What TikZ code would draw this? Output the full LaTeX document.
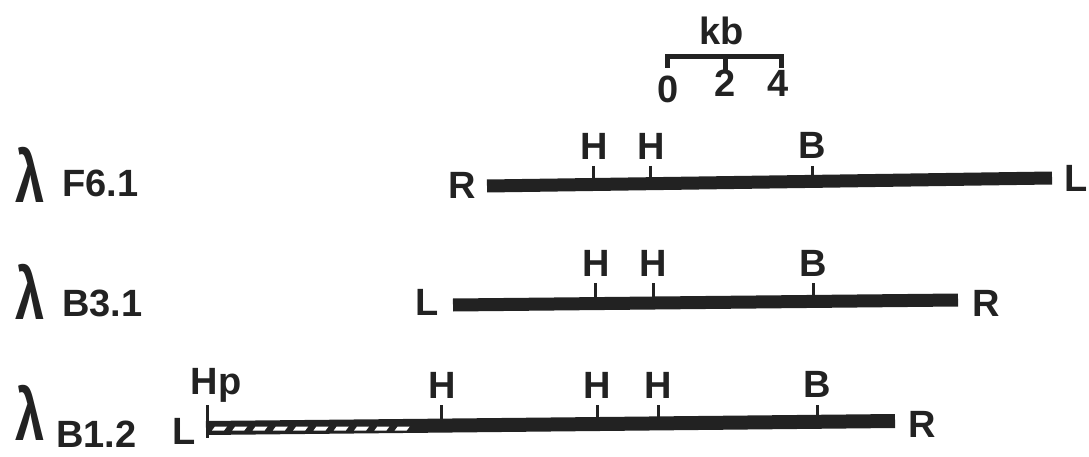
\documentclass[tikz,border=0pt]{standalone}
\usepackage{fontspec}
\setmainfont{Liberation Sans}
\definecolor{ink}{HTML}{222222}
\begin{document}
\begin{tikzpicture}[x=1pt,y=-1pt,
  lab/.style={font=\fontsize{38}{38}\selectfont\bfseries, text=ink, inner sep=0pt},
  lam/.style={font=\fontsize{64}{64}\selectfont\bfseries, text=ink, inner sep=0pt},
  barline/.style={draw=ink, line width=13pt},
  tickline/.style={draw=ink, line width=3pt},
  scaleline/.style={draw=ink, line width=5pt}]
\useasboundingbox (0,0) rectangle (1089,457);

% ---- scale bar
\node[lab] (kb) at (722,31) {kb};
\draw[scaleline] (667,68) -- (667,57) -- (781,57) -- (781,68);
\draw[scaleline] (725,57) -- (725,70);
\node[lab] (s0) at (668,89) {0};
\node[lab] (s2) at (725,83) {2};
\node[lab] (s4) at (778,83) {4};

% ---- clone names
\newcommand{\lambdasign}{\scalebox{0.82}[1.15]{λ}}
\node[lam] (lamA) at (30,175) {\lambdasign};
\node[lab, anchor=west] (nA) at (62,183) {F6.1};
\node[lam] (lamB) at (30,292) {\lambdasign};
\node[lab, anchor=west] (nB) at (62,303) {B3.1};
\node[lam] (lamC) at (30,413) {\lambdasign};
\node[lab, anchor=west] (nC) at (56,434) {B1.2};

% ---- F6.1
\draw[barline] (487,186) -- (1052,178);
\foreach \x in {593,650,812}{
  \draw[tickline] (\x,166) -- (\x,180);
}
\node[lab] (fR) at (462,185) {R};
\node[lab] (fL) at (1076,178) {L};
\node[lab] (fH1) at (594,146) {H};
\node[lab] (fH2) at (651,146) {H};
\node[lab] (fB) at (812,145) {B};

% ---- B3.1
\draw[barline] (453,305) -- (958,300);
\foreach \x in {595,653,813}{
  \draw[tickline] (\x,283) -- (\x,298);
}
\node[lab] (bL) at (427,302) {L};
\node[lab] (bR) at (986,303) {R};
\node[lab] (bH1) at (596,263) {H};
\node[lab] (bH2) at (653,263) {H};
\node[lab] (bB) at (813,263) {B};

% ---- B1.2
\draw[barline, line width=14pt] (206,428) -- (895,421);
% white dashes in the left stretch of the insert
\foreach \i in {0,...,9}{
  \fill[white] ({212+20.3*\i},430.5) -- ({224+20.3*\i},430.5) -- ({227+20.3*\i},426.5) -- ({215+20.3*\i},426.5) -- cycle;
}
\draw[tickline] (207,405) -- (207,438);
\foreach \x in {441,597,658,817}{
  \draw[tickline] (\x,405) -- (\x,419);
}
\node[lab] (cHp) at (216,385) {Hp};
\node[lab] (cL) at (184,431) {L};
\node[lab] (cR) at (922,424) {R};
\node[lab] (cH1) at (442,385) {H};
\node[lab] (cH2) at (597,385) {H};
\node[lab] (cH3) at (658,385) {H};
\node[lab] (cB) at (817,384) {B};
\end{tikzpicture}
\end{document}
